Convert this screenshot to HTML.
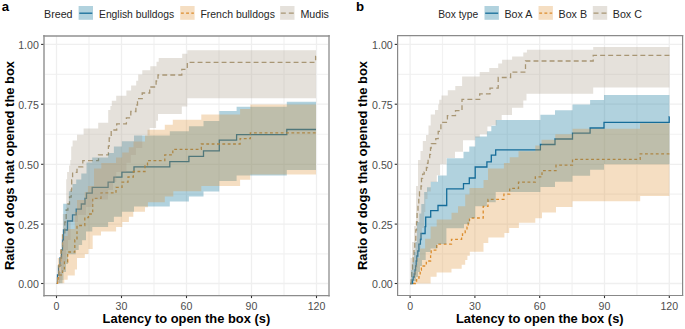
<!DOCTYPE html>
<html><head><meta charset="utf-8"><style>
html,body{margin:0;padding:0;background:#fff;}
body{width:685px;height:329px;overflow:hidden;}
svg{display:block;}
</style></head><body>
<svg width="685" height="329" viewBox="0 0 685 329" font-family='"Liberation Sans", sans-serif'>
<rect width="685" height="329" fill="#fff"/>
<defs><clipPath id="ca"><rect x="43.50" y="35.80" width="285.80" height="259.50"/></clipPath><clipPath id="cb"><rect x="397.30" y="35.80" width="285.20" height="259.50"/></clipPath></defs>
<line x1="89.00" y1="35.80" x2="89.00" y2="295.30" stroke="#F2F2F2" stroke-width="1.2"/>
<line x1="154.00" y1="35.80" x2="154.00" y2="295.30" stroke="#F2F2F2" stroke-width="1.2"/>
<line x1="219.00" y1="35.80" x2="219.00" y2="295.30" stroke="#F2F2F2" stroke-width="1.2"/>
<line x1="284.00" y1="35.80" x2="284.00" y2="295.30" stroke="#F2F2F2" stroke-width="1.2"/>
<line x1="43.50" y1="74.30" x2="329.30" y2="74.30" stroke="#F2F2F2" stroke-width="1.2"/>
<line x1="43.50" y1="134.25" x2="329.30" y2="134.25" stroke="#F2F2F2" stroke-width="1.2"/>
<line x1="43.50" y1="194.20" x2="329.30" y2="194.20" stroke="#F2F2F2" stroke-width="1.2"/>
<line x1="43.50" y1="253.80" x2="329.30" y2="253.80" stroke="#F2F2F2" stroke-width="1.2"/>
<line x1="56.50" y1="35.80" x2="56.50" y2="295.30" stroke="#EFEFEF" stroke-width="1.3"/>
<line x1="121.50" y1="35.80" x2="121.50" y2="295.30" stroke="#EFEFEF" stroke-width="1.3"/>
<line x1="186.50" y1="35.80" x2="186.50" y2="295.30" stroke="#EFEFEF" stroke-width="1.3"/>
<line x1="251.50" y1="35.80" x2="251.50" y2="295.30" stroke="#EFEFEF" stroke-width="1.3"/>
<line x1="316.50" y1="35.80" x2="316.50" y2="295.30" stroke="#EFEFEF" stroke-width="1.3"/>
<line x1="43.50" y1="44.40" x2="329.30" y2="44.40" stroke="#EFEFEF" stroke-width="1.3"/>
<line x1="43.50" y1="104.20" x2="329.30" y2="104.20" stroke="#EFEFEF" stroke-width="1.3"/>
<line x1="43.50" y1="164.30" x2="329.30" y2="164.30" stroke="#EFEFEF" stroke-width="1.3"/>
<line x1="43.50" y1="224.10" x2="329.30" y2="224.10" stroke="#EFEFEF" stroke-width="1.3"/>
<line x1="43.50" y1="283.50" x2="329.30" y2="283.50" stroke="#EFEFEF" stroke-width="1.3"/>
<g clip-path="url(#ca)"><path d="M56.5 283.3H57.5V275.0H58.5V266.0H60.0V258.0H61.5V250.0H62.5V240.0H63.5V230.0H67.5V221.0H72.5V214.8H76.2V209.1H81.3V204.0H85.0V198.3H86.5V193.1H92.2V187.4H108.1V182.1H113.9V177.1H121.9V172.2H134.0V166.8H169.8V161.6H188.9V156.4H203.5V150.8H219.3V140.2H236.6V134.6H286.8V129.5H316.0" fill="none" stroke="#18699A" stroke-width="1.3"/>
<path d="M56.5 283.3H57.5V279.0H58.5V275.0H62.5V270.0H64.4V262.0H67.7V252.0H74.8V240.0H77.0V225.5H84.8V217.5H88.5V214.0H92.7V198.3H101.0V192.9H116.0V187.4H122.0V182.2H128.0V177.0H133.3V171.5H145.0V166.0H147.5V160.7H164.8V154.9H172.8V149.4H201.3V144.0H240.1V138.7H250.3V132.8H316.0" fill="none" stroke="#DB8A2A" stroke-width="1.3" stroke-dasharray="2.85 2.50" stroke-dashoffset="5.15"/>
<path d="M56.5 283.3H57.5V278.0H59.0V265.0H61.0V250.0H62.5V235.0H64.8V222.0H66.2V210.0H67.9V204.0H69.5V197.0H71.2V190.0H71.7V180.0H72.6V172.4H77.0V166.9H82.8V160.7H98.5V154.8H108.4V146.1H109.2V138.0H111.2V130.0H116.7V123.8H126.4V117.9H130.8V111.5H135.9V105.0H137.5V98.7H142.2V93.0H149.7V87.0H156.1V81.0H158.0V75.0H181.8V69.3H187.3V62.3H315.6V56.3H316.0" fill="none" stroke="#A8946C" stroke-width="1.3" stroke-dasharray="4.90 3.10" stroke-dashoffset="5.90"/>
<path d="M56.5 283.3H59.0V272.0H60.8V262.0H62.0V245.0H63.2V203.8H68.9V191.2H72.5V184.0H76.2V179.6H81.3V173.4H86.5V162.5H92.2V157.4H108.1V153.0H113.9V146.4H121.9V141.3H134.0V135.6H169.8V131.3H188.9V126.2H203.5V121.1H219.3V111.1H236.6V106.8H286.8V101.8H316.0V169.9H286.8V175.5H236.6V181.1H219.3V191.6H203.5V196.4H188.9V201.5H169.8V206.6H134.0V211.7H121.9V216.8H113.9V221.9H108.1V227.0H92.3V231.4H86.0V240.2H82.1V245.0H78.7V249.9H75.7V254.3H68.0V264.0H66.0V272.0H63.5V280.0H62.5V283.3H56.5Z" fill="#0B7298" fill-opacity="0.32"/>
<path d="M56.5 283.3H57.8V258.0H60.2V250.0H62.5V240.0H64.4V236.0H67.7V229.0H74.8V212.0H77.0V200.0H84.8V192.0H87.9V186.0H94.0V168.4H101.3V162.9H116.0V157.5H122.2V152.4H128.8V147.3H133.5V141.5H145.0V135.5H147.5V129.8H164.8V124.7H172.8V119.8H201.3V114.5H240.1V109.1H250.3V104.5H316.0V174.4H250.3V179.7H240.1V185.9H201.3V191.3H173.3V196.4H164.8V202.2H147.9V207.3H145.0V211.7H133.3V216.8H128.9V221.9H122.3V227.0H116.1V231.4H101.0V235.6H92.7V249.0H88.5V254.0H84.8V258.0H77.0V269.6H74.8V275.5H67.7V279.8H64.3V283.3H56.5Z" fill="#DE9134" fill-opacity="0.30"/>
<path d="M56.5 283.3H58.5V268.0H60.0V255.0H62.0V234.0H62.8V214.0H66.2V179.2H67.1V171.9H69.0V165.5H70.3V160.0H71.2V146.4H72.6V140.6H77.0V134.8H83.6V128.6H98.2V122.7H108.2V110.0H110.4V105.9H111.8V100.8H116.2V95.7H126.4V90.6H131.1V85.5H136.2V80.8H138.2V74.6H142.3V70.2H150.3V66.2H156.5V61.8H158.7V57.9H182.2V53.8H187.3V50.3H316.0V98.3H187.3V106.5H181.8V114.0H158.0V120.7H156.1V128.0H149.7V135.3H142.2V148.0H135.9V155.0H130.8V162.8H126.4V172.0H116.2V182.0H113.0V190.0H108.0V199.5H93.0V207.0H86.0V215.0H78.0V222.0H70.6V240.0H68.0V250.0H66.0V262.0H64.0V272.0H62.0V280.0H60.0V283.3H56.5Z" fill="#A89B87" fill-opacity="0.30"/></g>
<line x1="44.00" y1="36.00" x2="44.00" y2="295.60" stroke="#B0B0B0" stroke-width="2.00" stroke-linecap="square"/>
<line x1="329.00" y1="36.00" x2="329.00" y2="295.60" stroke="#B5B5B5" stroke-width="2.00" stroke-linecap="square"/>
<line x1="44.00" y1="35.95" x2="329.00" y2="35.95" stroke="#909090" stroke-width="1.40" stroke-linecap="square"/>
<line x1="44.00" y1="295.60" x2="329.00" y2="295.60" stroke="#8C8C8C" stroke-width="1.30" stroke-linecap="square"/>
<line x1="56.50" y1="295.90" x2="56.50" y2="298.10" stroke="#333333" stroke-width="1.1"/>
<line x1="121.50" y1="295.90" x2="121.50" y2="298.10" stroke="#333333" stroke-width="1.1"/>
<line x1="186.50" y1="295.90" x2="186.50" y2="298.10" stroke="#333333" stroke-width="1.1"/>
<line x1="251.50" y1="295.90" x2="251.50" y2="298.10" stroke="#333333" stroke-width="1.1"/>
<line x1="316.50" y1="295.90" x2="316.50" y2="298.10" stroke="#333333" stroke-width="1.1"/>
<line x1="41.10" y1="44.40" x2="43.40" y2="44.40" stroke="#333333" stroke-width="1.1"/>
<line x1="41.10" y1="104.20" x2="43.40" y2="104.20" stroke="#333333" stroke-width="1.1"/>
<line x1="41.10" y1="164.30" x2="43.40" y2="164.30" stroke="#333333" stroke-width="1.1"/>
<line x1="41.10" y1="224.10" x2="43.40" y2="224.10" stroke="#333333" stroke-width="1.1"/>
<line x1="41.10" y1="283.50" x2="43.40" y2="283.50" stroke="#333333" stroke-width="1.1"/>
<text transform="translate(56.50 309.5) scale(1 1.09)" text-anchor="middle" font-size="10.6" fill="#4D4D4D">0</text>
<text transform="translate(121.50 309.5) scale(1 1.09)" text-anchor="middle" font-size="10.6" fill="#4D4D4D">30</text>
<text transform="translate(186.50 309.5) scale(1 1.09)" text-anchor="middle" font-size="10.6" fill="#4D4D4D">60</text>
<text transform="translate(251.50 309.5) scale(1 1.09)" text-anchor="middle" font-size="10.6" fill="#4D4D4D">90</text>
<text transform="translate(316.50 309.5) scale(1 1.09)" text-anchor="middle" font-size="10.6" fill="#4D4D4D">120</text>
<text transform="translate(38.80 49.30) scale(1 1.1)" text-anchor="end" font-size="10.6" fill="#4D4D4D">1.00</text>
<text transform="translate(38.80 109.10) scale(1 1.1)" text-anchor="end" font-size="10.6" fill="#4D4D4D">0.75</text>
<text transform="translate(38.80 169.20) scale(1 1.1)" text-anchor="end" font-size="10.6" fill="#4D4D4D">0.50</text>
<text transform="translate(38.80 229.00) scale(1 1.1)" text-anchor="end" font-size="10.6" fill="#4D4D4D">0.25</text>
<text transform="translate(38.80 288.40) scale(1 1.1)" text-anchor="end" font-size="10.6" fill="#4D4D4D">0.00</text>
<line x1="442.50" y1="35.80" x2="442.50" y2="295.30" stroke="#F2F2F2" stroke-width="1.2"/>
<line x1="507.30" y1="35.80" x2="507.30" y2="295.30" stroke="#F2F2F2" stroke-width="1.2"/>
<line x1="572.10" y1="35.80" x2="572.10" y2="295.30" stroke="#F2F2F2" stroke-width="1.2"/>
<line x1="636.90" y1="35.80" x2="636.90" y2="295.30" stroke="#F2F2F2" stroke-width="1.2"/>
<line x1="397.30" y1="74.30" x2="682.50" y2="74.30" stroke="#F2F2F2" stroke-width="1.2"/>
<line x1="397.30" y1="134.25" x2="682.50" y2="134.25" stroke="#F2F2F2" stroke-width="1.2"/>
<line x1="397.30" y1="194.20" x2="682.50" y2="194.20" stroke="#F2F2F2" stroke-width="1.2"/>
<line x1="397.30" y1="253.80" x2="682.50" y2="253.80" stroke="#F2F2F2" stroke-width="1.2"/>
<line x1="410.10" y1="35.80" x2="410.10" y2="295.30" stroke="#EFEFEF" stroke-width="1.3"/>
<line x1="474.90" y1="35.80" x2="474.90" y2="295.30" stroke="#EFEFEF" stroke-width="1.3"/>
<line x1="539.70" y1="35.80" x2="539.70" y2="295.30" stroke="#EFEFEF" stroke-width="1.3"/>
<line x1="604.50" y1="35.80" x2="604.50" y2="295.30" stroke="#EFEFEF" stroke-width="1.3"/>
<line x1="669.30" y1="35.80" x2="669.30" y2="295.30" stroke="#EFEFEF" stroke-width="1.3"/>
<line x1="397.30" y1="44.40" x2="682.50" y2="44.40" stroke="#EFEFEF" stroke-width="1.3"/>
<line x1="397.30" y1="104.20" x2="682.50" y2="104.20" stroke="#EFEFEF" stroke-width="1.3"/>
<line x1="397.30" y1="164.30" x2="682.50" y2="164.30" stroke="#EFEFEF" stroke-width="1.3"/>
<line x1="397.30" y1="224.10" x2="682.50" y2="224.10" stroke="#EFEFEF" stroke-width="1.3"/>
<line x1="397.30" y1="283.50" x2="682.50" y2="283.50" stroke="#EFEFEF" stroke-width="1.3"/>
<g clip-path="url(#cb)"><path d="M410.1 283.5H412.3V280.0H413.2V277.0H414.2V274.0H415.0V270.0H415.6V266.0H416.2V261.0H416.8V256.0H417.8V251.0H418.9V244.2H420.4V239.5H421.0V233.5H425.1V226.7H425.7V217.2H430.7V210.7H438.0V205.5H446.7V188.8H463.5V183.6H469.3V178.0H475.2V167.0H486.9V161.9H491.3V155.2H495.7V149.9H540.4V144.5H555.0V139.0H572.5V133.2H590.1V128.0H604.0V122.4H669.2V116.7H669.4" fill="none" stroke="#18699A" stroke-width="1.3"/>
<path d="M410.1 283.5H415.4V281.0H416.6V278.0H419.0V275.5H420.2V270.0H421.4V266.0H426.3V261.0H430.6V255.0H431.2V250.2H436.7V244.1H451.5V239.3H461.6V236.5H462.5V233.8H465.2V230.8H467.0V227.1H468.2V222.9H469.5V218.0H483.2V206.3H488.0V199.4H503.9V194.2H509.7V188.4H518.5V182.1H535.3V176.9H542.0V170.6H556.0V165.2H572.5V159.3H640.2V153.8H669.4" fill="none" stroke="#DB8A2A" stroke-width="1.3" stroke-dasharray="2.85 2.55" stroke-dashoffset="2.60"/>
<path d="M410.1 283.5H411.1V280.0H411.8V272.0H412.5V265.0H413.2V258.0H414.0V250.0H414.8V240.0H415.8V230.0H416.5V222.0H417.1V212.0H418.0V204.6H418.8V196.0H419.5V190.4H421.0V186.0H421.5V178.4H422.6V174.1H424.2V171.9H426.4V167.5H427.5V163.1H428.1V157.7H429.7V154.4H430.5V148.0H431.2V143.6H435.8V138.7H438.2V131.4H440.9V122.4H447.4V115.7H455.5V110.7H462.0V99.4H479.7V93.8H490.0V88.1H498.2V77.5H510.6V72.1H525.5V61.0H593.2V55.3H669.4" fill="none" stroke="#A8946C" stroke-width="1.3" stroke-dasharray="4.95 3.09" stroke-dashoffset="7.86"/>
<path d="M410.1 283.5H411.0V270.0H412.5V262.0H414.0V252.0H415.5V242.0H417.0V222.0H419.3V213.4H421.3V204.0H424.2V192.0H427.0V187.3H430.7V181.7H438.0V175.5H446.7V158.2H463.5V151.7H469.3V146.6H475.2V136.5H486.9V131.2H491.3V125.8H495.7V120.1H540.4V114.7H555.0V110.2H572.5V104.4H590.1V99.9H604.0V95.1H669.4V164.3H604.0V169.7H590.1V175.8H572.5V181.8H555.0V187.0H540.4V192.1H495.7V202.3H486.9V206.3H475.2V218.0H469.5V224.1H464.0V228.3H446.4V244.1H437.3V248.4H430.6V252.0H425.7V260.0H422.0V266.0H420.0V272.0H418.0V277.0H416.0V281.0H414.0V283.5H410.1Z" fill="#0B7298" fill-opacity="0.32"/>
<path d="M410.1 283.5H414.0V272.0H415.4V265.0H417.0V258.0H419.6V248.4H425.1V238.7H430.6V226.5H436.7V219.6H451.5V212.8H458.0V206.3H465.2V194.6H469.5V188.0H483.5V180.0H488.0V168.6H503.9V163.0H509.7V157.2H518.5V151.3H535.3V145.5H541.5V139.8H555.3V134.2H572.5V128.7H640.0V123.3H669.4V196.0H640.2V201.3H572.5V207.0H556.0V212.5H542.0V218.3H535.3V222.7H518.9V228.1H509.2V233.0H504.4V237.6H488.3V242.9H483.5V251.8H469.8V255.8H467.4V260.0H465.2V264.7H461.7V268.7H451.5V272.5H436.6V276.7H430.6V283.5H410.1Z" fill="#DE9134" fill-opacity="0.30"/>
<path d="M410.1 283.5H410.5V258.0H412.0V242.0H414.0V226.0H416.0V186.0H418.0V160.0H420.5V151.0H422.8V140.9H426.0V135.0H428.5V125.5H430.7V114.6H435.0V110.0H438.2V104.4H439.2V99.8H441.5V95.5H447.8V90.2H455.3V86.0H462.1V76.4H479.7V72.1H489.3V67.9H498.2V63.6H502.1V59.8H512.1V56.6H523.3V52.6H526.9V49.8H593.2V47.1H669.4V87.5H593.2V93.8H526.5V100.4H523.3V107.7H512.0V115.0H501.7V120.1H496.6V125.2H491.5V126.6H487.4V134.2H479.8V137.5H475.2V140.3H463.0V151.7H455.0V158.0H446.5V164.2H440.1V175.2H436.8V182.0H430.8V191.5H427.5V199.1H425.3V212.0H424.2V228.0H422.0V238.0H420.5V248.0H419.0V258.0H417.5V268.0H416.0V276.0H414.0V281.0H412.0V283.5H410.1Z" fill="#A89B87" fill-opacity="0.30"/></g>
<line x1="397.60" y1="35.70" x2="397.60" y2="295.50" stroke="#888888" stroke-width="1.20" stroke-linecap="square"/>
<line x1="682.60" y1="35.70" x2="682.60" y2="295.50" stroke="#888888" stroke-width="1.20" stroke-linecap="square"/>
<line x1="397.60" y1="35.70" x2="682.60" y2="35.70" stroke="#8A8A8A" stroke-width="1.20" stroke-linecap="square"/>
<line x1="397.60" y1="295.50" x2="682.60" y2="295.50" stroke="#888888" stroke-width="1.20" stroke-linecap="square"/>
<line x1="410.10" y1="295.90" x2="410.10" y2="298.10" stroke="#333333" stroke-width="1.1"/>
<line x1="474.90" y1="295.90" x2="474.90" y2="298.10" stroke="#333333" stroke-width="1.1"/>
<line x1="539.70" y1="295.90" x2="539.70" y2="298.10" stroke="#333333" stroke-width="1.1"/>
<line x1="604.50" y1="295.90" x2="604.50" y2="298.10" stroke="#333333" stroke-width="1.1"/>
<line x1="669.30" y1="295.90" x2="669.30" y2="298.10" stroke="#333333" stroke-width="1.1"/>
<line x1="394.70" y1="44.40" x2="397.00" y2="44.40" stroke="#333333" stroke-width="1.1"/>
<line x1="394.70" y1="104.20" x2="397.00" y2="104.20" stroke="#333333" stroke-width="1.1"/>
<line x1="394.70" y1="164.30" x2="397.00" y2="164.30" stroke="#333333" stroke-width="1.1"/>
<line x1="394.70" y1="224.10" x2="397.00" y2="224.10" stroke="#333333" stroke-width="1.1"/>
<line x1="394.70" y1="283.50" x2="397.00" y2="283.50" stroke="#333333" stroke-width="1.1"/>
<text transform="translate(410.10 309.5) scale(1 1.09)" text-anchor="middle" font-size="10.6" fill="#4D4D4D">0</text>
<text transform="translate(474.90 309.5) scale(1 1.09)" text-anchor="middle" font-size="10.6" fill="#4D4D4D">30</text>
<text transform="translate(539.70 309.5) scale(1 1.09)" text-anchor="middle" font-size="10.6" fill="#4D4D4D">60</text>
<text transform="translate(604.50 309.5) scale(1 1.09)" text-anchor="middle" font-size="10.6" fill="#4D4D4D">90</text>
<text transform="translate(669.30 309.5) scale(1 1.09)" text-anchor="middle" font-size="10.6" fill="#4D4D4D">120</text>
<text transform="translate(392.70 49.30) scale(1 1.1)" text-anchor="end" font-size="10.6" fill="#4D4D4D">1.00</text>
<text transform="translate(392.70 109.10) scale(1 1.1)" text-anchor="end" font-size="10.6" fill="#4D4D4D">0.75</text>
<text transform="translate(392.70 169.20) scale(1 1.1)" text-anchor="end" font-size="10.6" fill="#4D4D4D">0.50</text>
<text transform="translate(392.70 229.00) scale(1 1.1)" text-anchor="end" font-size="10.6" fill="#4D4D4D">0.25</text>
<text transform="translate(392.70 288.40) scale(1 1.1)" text-anchor="end" font-size="10.6" fill="#4D4D4D">0.00</text>
<text x="186.4" y="323.2" text-anchor="middle" font-size="12.9" font-weight="bold" fill="#000">Latency to open the box (s)</text>
<text x="539.8" y="323.2" text-anchor="middle" font-size="12.9" font-weight="bold" fill="#000">Latency to open the box (s)</text>
<text transform="translate(13.8 165.5) rotate(-90)" text-anchor="middle" font-size="12.95" font-weight="bold" fill="#000">Ratio of dogs that opened the box</text>
<text transform="translate(367.4 165.5) rotate(-90)" text-anchor="middle" font-size="12.95" font-weight="bold" fill="#000">Ratio of dogs that opened the box</text>
<text x="1.8" y="10.9" font-size="13.2" font-weight="bold" fill="#000">a</text>
<text x="356" y="11.4" font-size="13.2" font-weight="bold" fill="#000">b</text>
<text transform="translate(44.00 17.7) scale(1.000 1)" font-size="10.7" fill="#262626">Breed</text>
<line x1="79.30" y1="13.2" x2="92.30" y2="13.2" stroke="#18699A" stroke-width="1.3" stroke-dasharray="none"/>
<rect x="78.60" y="6.0" width="14.4" height="13.8" fill="#0B7298" fill-opacity="0.32"/>
<text transform="translate(99.00 17.7) scale(0.966 1)" font-size="10.7" fill="#262626">English bulldogs</text>
<line x1="180.90" y1="13.2" x2="193.90" y2="13.2" stroke="#DB8A2A" stroke-width="1.3" stroke-dasharray="2.9 2.3"/>
<rect x="180.20" y="6.0" width="14.4" height="13.8" fill="#DE9134" fill-opacity="0.30"/>
<text transform="translate(200.40 17.7) scale(0.979 1)" font-size="10.7" fill="#262626">French bulldogs</text>
<line x1="280.80" y1="13.2" x2="293.80" y2="13.2" stroke="#A8946C" stroke-width="1.3" stroke-dasharray="5 3"/>
<rect x="280.10" y="6.0" width="14.4" height="13.8" fill="#A89B87" fill-opacity="0.30"/>
<text transform="translate(300.40 17.7) scale(1.000 1)" font-size="10.7" fill="#262626">Mudis</text>
<text transform="translate(438.20 17.7) scale(0.960 1)" font-size="10.7" fill="#262626">Box type</text>
<line x1="485.20" y1="13.2" x2="498.20" y2="13.2" stroke="#18699A" stroke-width="1.3" stroke-dasharray="none"/>
<rect x="484.50" y="6.0" width="14.4" height="13.8" fill="#0B7298" fill-opacity="0.32"/>
<text transform="translate(504.40 17.7) scale(1.000 1)" font-size="10.7" fill="#262626">Box A</text>
<line x1="539.20" y1="13.2" x2="552.20" y2="13.2" stroke="#DB8A2A" stroke-width="1.3" stroke-dasharray="2.9 2.3"/>
<rect x="538.50" y="6.0" width="14.4" height="13.8" fill="#DE9134" fill-opacity="0.30"/>
<text transform="translate(558.50 17.7) scale(1.000 1)" font-size="10.7" fill="#262626">Box B</text>
<line x1="593.50" y1="13.2" x2="606.50" y2="13.2" stroke="#A8946C" stroke-width="1.3" stroke-dasharray="5 3"/>
<rect x="592.80" y="6.0" width="14.4" height="13.8" fill="#A89B87" fill-opacity="0.30"/>
<text transform="translate(612.80 17.7) scale(1.000 1)" font-size="10.7" fill="#262626">Box C</text>
</svg>
</body></html>
